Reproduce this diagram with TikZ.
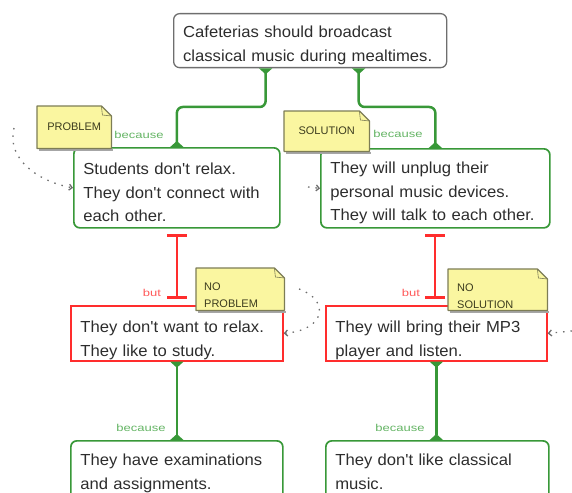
\documentclass[tikz,border=0pt]{standalone}
\usepackage{fontspec}
\setmainfont{Liberation Sans}
\newfontfamily\boxfont[FakeStretch=1.04]{Liberation Sans}
\newfontfamily\tagfont[FakeStretch=1.3]{Liberation Sans}
\usetikzlibrary{arrows.meta}
\hyphenpenalty=10000

\definecolor{argGreen}{RGB}{56,152,56}
\definecolor{argRed}{RGB}{255,45,45}
\definecolor{claimEdge}{RGB}{110,110,110}
\definecolor{boxText}{RGB}{45,45,45}
\definecolor{noteYellow}{RGB}{250,246,160}
\definecolor{noteEdge}{RGB}{125,125,85}
\definecolor{noteText}{RGB}{60,60,30}
\definecolor{tagGreen}{RGB}{100,180,100}
\definecolor{tagRed}{RGB}{255,90,90}
\definecolor{strayGray}{RGB}{110,110,110}

\begin{document}
\begin{tikzpicture}[x=1pt, y=-1pt,
  claimbox/.style={draw=claimEdge, line width=1.3pt, rounded corners=6pt, anchor=north west,
    align=left, inner xsep=9.5pt, inner ysep=0pt, text=boxText,
    font=\boxfont\fontsize{16}{23.5}\selectfont},
  probox/.style={claimbox, draw=argGreen, line width=1.7pt},
  conbox/.style={claimbox, draw=argRed, line width=1.7pt, rounded corners=0pt},
  note/.style={fill=noteYellow, anchor=north west, inner sep=0pt, text=noteText,
    font=\fontsize{11}{17}\selectfont},
  because/.style={argGreen, line width=2.5pt,
    {Triangle[reversed,width=13pt,length=6pt]}-{Triangle[reversed,width=13pt,length=6pt]}},
  but/.style={argRed, line width=2pt, {Bar[width=20pt,line width=3pt]}-{Bar[width=20pt,line width=3pt]},
    shorten <=5pt, shorten >=6pt},
  tag/.style={inner sep=0pt, font=\tagfont\fontsize{10}{11}\selectfont},
  stray/.style={strayGray, line width=1.3pt, dash pattern=on 1.5pt off 6pt,
    -{Straight Barb[length=3pt,width=6pt]}}]
\useasboundingbox (0,0) rectangle (572,492);
%
\node[claimbox, minimum width=273pt, minimum height=54pt, text width=254pt, text height=22pt, text depth=28pt]
  (claim) at (173,13) {Cafeterias should broadcast\\classical music during mealtimes.};
%
\node[probox, minimum width=206pt, minimum height=80pt, text width=187pt, text height=25pt, text depth=51pt]
  (relax) at (73,147) {Students don't relax.\\They don't connect with\\each other.};
\node[probox, minimum width=229pt, minimum height=79pt, text width=210pt, text height=22pt, text depth=51pt]
  (unplug) at (320,148) {They will unplug their\\personal music devices.\\They will talk to each other.};
%
\node[conbox, minimum width=212pt, minimum height=55pt, text width=193pt, text height=26.5pt, text depth=27.5pt]
  (study) at (70,305) {They don't want to relax.\\They like to study.};
\node[conbox, minimum width=221pt, minimum height=55pt, text width=202pt, text height=26.5pt, text depth=27.5pt]
  (mp3) at (325,305) {They will bring their MP3\\player and listen.};
%
\node[probox, minimum width=212pt, minimum height=60pt, text width=193pt, text height=17pt, text depth=27.5pt]
  (exams) at (70,440) {They have examinations\\and assignments.};
\node[probox, minimum width=223pt, minimum height=60pt, text width=204pt, text height=17pt, text depth=27.5pt]
  (classical) at (325,440) {They don't like classical\\music.};
%
\draw [because, rounded corners=6pt] (relax.north) -- ++(0,-40) -| ([xshift=-44.5pt]claim.south);
\draw [because, rounded corners=6pt] (unplug.north) -- ++(0,-41) -| ([xshift=48.5pt]claim.south);
\draw [but] (relax.south) -- (relax.south |- study.north);
\draw [but] (unplug.south) -- (unplug.south |- mp3.north);
\draw [because] (study.south) -- (study.south |- exams.north);
\draw [because] (mp3.south) -- (mp3.south |- classical.north);
%
\coordinate (farL) at (14,128);
\coordinate (farM) at (308,187);
\coordinate (farR) at (299,289);
\coordinate (farE) at (572,331);
\draw [stray] (farL) .. controls (6,160) and (40,182) .. (relax.west);
\draw [stray] (farM) -- (unplug.west);
\draw [stray] (farR) .. controls (330,300) and (326,330) .. (study.east);
\draw [stray] (farE) -- (mp3.east);
%
\node[note, minimum width=74pt, minimum height=42pt] (problem) at (37,106) {PROBLEM};
\node[note, minimum width=85pt, minimum height=40pt] (solution) at (284,111) {SOLUTION};
\node[note, minimum width=88pt, minimum height=42pt, align=left, inner xsep=8pt, text width=72pt,
  text height=20pt, text depth=17pt] (noprob) at (196,268) {NO\\PROBLEM};
\node[note, minimum width=99pt, minimum height=41pt, align=left, inner xsep=9pt, text width=81pt,
  text height=20pt, text depth=17pt] (nosol) at (448,269) {NO\\SOLUTION};
\foreach \n in {problem,solution,noprob,nosol}{
  \fill [white] ([xshift=-10pt]\n.north east) -- (\n.north east) -- ([yshift=-10pt]\n.north east) -- cycle;
  \draw [gray!70, line width=1.5pt] ([xshift=2pt,yshift=-1.4pt]\n.south west) -- ([xshift=1.4pt,yshift=-1.4pt]\n.south east);
  \draw [noteEdge, line width=1.2pt, line join=round] (\n.south west) -- (\n.north west)
    -- ([xshift=-10pt]\n.north east) -- ([yshift=-10pt]\n.north east) -- (\n.south east) -- cycle;
  \draw [noteEdge, line width=0.6pt] ([xshift=-10pt]\n.north east) -- ([xshift=-9pt,yshift=-9pt]\n.north east)
    -- ([yshift=-10pt]\n.north east);
}
%
\node[tag, text=tagGreen] (becA) at (139,135) {because};
\node[tag, text=tagGreen] (becB) at (398,134) {because};
\node[tag, text=tagRed] (butA) at (152,293) {but};
\node[tag, text=tagRed] (butB) at (411,293) {but};
\node[tag, text=tagGreen] (becC) at (141,428) {because};
\node[tag, text=tagGreen] (becD) at (400,428) {because};
%%%%%%%%%%%%%%%%%%%%%%%%%%%%%%%
\end{tikzpicture}
\end{document}
